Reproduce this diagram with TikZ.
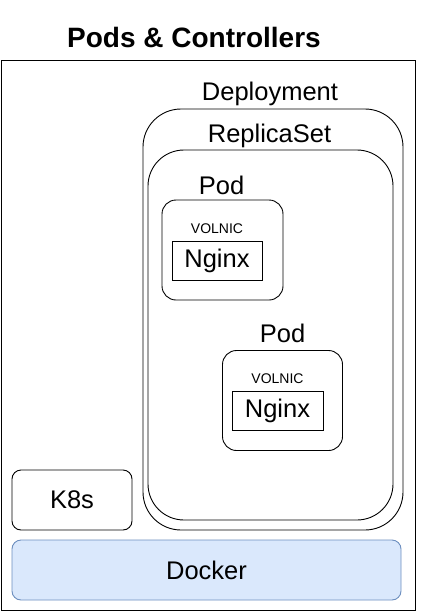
\documentclass[tikz,border=0pt]{standalone}
\usepackage{fontspec}
\setmainfont{Liberation Sans}
\usetikzlibrary{positioning}
\definecolor{dockerfill}{HTML}{DAE8FC}
\definecolor{dockerline}{HTML}{6C8EBF}

\begin{document}
\begin{tikzpicture}[x=1pt, y=-1pt,
	box/.style={draw, line width=0.9pt, inner sep=0pt, font=\fontsize{25.5}{30}\selectfont},
	tag/.style={inner sep=0pt, anchor=base, font=\fontsize{25.5}{30}\selectfont},
	small/.style={inner sep=0pt, anchor=base, font=\fontsize{14}{16}\selectfont}]
	\useasboundingbox (0,0) rectangle (432,611);
	\node [font=\bfseries\fontsize{28}{32}\selectfont] (title) at (194,37) {Pods \& Controllers};
	\node [box, minimum width=414pt, minimum height=550pt] (frame) at (208,335) {};
	% controllers
	\node [box, rounded corners=38pt, minimum width=260pt, minimum height=421pt] (deploy) at (273,319.5) {};
	\node [box, rounded corners=36pt, minimum width=245pt, minimum height=370pt] (rs) at (270.5,335) {};
	\node [tag] (deploylbl) at ([xshift=-3pt, yshift=8pt]deploy.north) {Deployment};
	\node [tag] (rslbl) at ([xshift=-1pt, yshift=7pt]rs.north) {ReplicaSet};
	% pods
	\node [box, rounded corners=14pt, minimum width=121pt, minimum height=100pt] (pod1) at (222.5,250) {};
	\node [box, rounded corners=14pt, minimum width=120pt, minimum height=100pt] (pod2) at (282.5,400.5) {};
	\node [tag] (pod1lbl) at ([xshift=-1pt, yshift=5pt]pod1.north) {Pod};
	\node [tag] (pod2lbl) at ([yshift=8pt]pod2.north) {Pod};
	\node [box, minimum width=90pt, minimum height=39pt] (nginx1) at (217,260.5) {Nginx};
	\node [box, minimum width=91pt, minimum height=39pt] (nginx2) at (277.5,410.5) {Nginx};
	\node [small] (vol1) at ([yshift=7pt]nginx1.north) {VOLNIC};
	\node [small] (vol2) at ([yshift=7pt]nginx2.north) {VOLNIC};
	% runtime
	\node [box, rounded corners=9pt, minimum width=120pt, minimum height=60pt] (k8s) at (72,500) {K8s};
	\node [box, draw=dockerline, fill=dockerfill, rounded corners=9pt, minimum width=389pt, minimum height=60pt] (docker) at (206.5,570) {Docker};
\end{tikzpicture}
\end{document}
